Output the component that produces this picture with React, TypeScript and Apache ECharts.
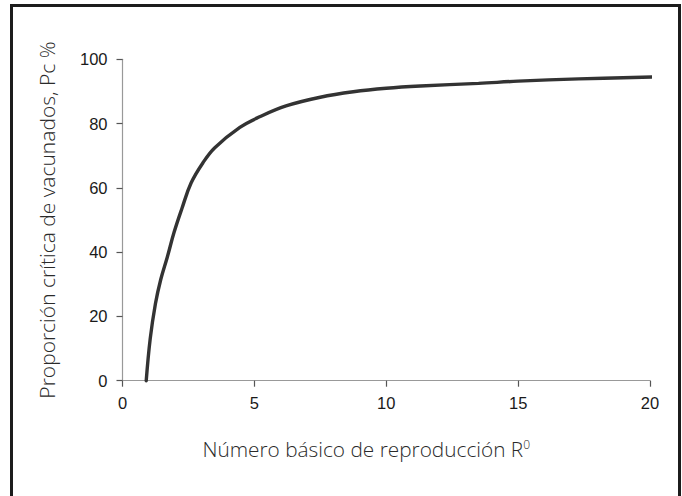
import React, { useEffect, useRef } from "react";
import * as echarts from "echarts";

// Basic reproduction number R0 (x) and critical vaccination proportion Pc % (y)
const r0Values = [0.9, 1.05, 1.25, 1.45, 1.7, 1.95, 2.25, 2.6, 3.05, 3.5, 4.45, 5.2, 6.2, 7.5, 8.75, 10, 11.3, 13.5, 15, 17.3, 20.2];
const pcValues = [0, 13, 24, 31.5, 38.5, 46, 53.5, 61.5, 67.8, 72.5, 78.8, 82.1, 85.5, 88.2, 89.9, 91, 91.7, 92.5, 93.2, 93.9, 94.5];

const xTitle = "Número básico de reproducción R";
const xTitleSup = "0";
const yTitle = "Proporción crítica de vacunados, Pc %";

export default function App() {
  const ref = useRef<HTMLDivElement>(null);
  useEffect(() => {
    if (!ref.current) return;
    const chart = echarts.init(ref.current, null, { renderer: "svg" });
    const data = r0Values.map((r, i) => [r, pcValues[i]]);
    const titleFont = "'Open Sans', 'Noto Sans', sans-serif";
    const tickFont = "'Liberation Sans', Arial, sans-serif";
    chart.setOption({
      animation: false,
      backgroundColor: "#ffffff",
      grid: { left: 122.5, right: 32, top: 59.3, bottom: 115.3, containLabel: false },
      graphic: [
        {
          type: "rect",
          shape: { x: 11.5, y: 5.5, width: 668, height: 540 },
          style: { fill: "none", stroke: "#1c1c1c", lineWidth: 3 },
          silent: true,
        },
      ],
      xAxis: {
        type: "value",
        min: 0,
        max: 20,
        interval: 5,
        name: `${xTitle}{sup|${xTitleSup}}`,
        nameLocation: "middle",
        nameGap: 58,
        nameTextStyle: {
          fontFamily: titleFont,
          fontWeight: 300,
          fontSize: 20.8,
          color: "#2a2a2a",
          padding: [0, 40, 0, 0],
          rich: {
            sup: { fontFamily: titleFont, fontWeight: 300, fontSize: 12, color: "#2a2a2a", verticalAlign: "top", lineHeight: 15 },
          },
        },
        axisLine: { lineStyle: { color: "#999", width: 1.2 } },
        axisTick: { length: 6, lineStyle: { color: "#555", width: 1.2 } },
        axisLabel: { margin: 14, fontFamily: tickFont, fontSize: 16.5, color: "#1a1a1a" },
        splitLine: { show: false },
      },
      yAxis: {
        type: "value",
        min: 0,
        max: 100,
        interval: 20,
        name: yTitle,
        nameLocation: "middle",
        nameGap: 65,
        nameTextStyle: {
          fontFamily: titleFont,
          fontWeight: 300,
          fontSize: 21,
          color: "#2a2a2a",
        },
        axisLine: { show: true, lineStyle: { color: "#999", width: 1.2 } },
        axisTick: { show: true, length: 6, lineStyle: { color: "#555", width: 1.2 } },
        axisLabel: { margin: 15, fontFamily: tickFont, fontSize: 16.5, color: "#1a1a1a" },
        splitLine: { show: false },
      },
      series: [
        {
          type: "line",
          data,
          smooth: 0.4,
          showSymbol: false,
          symbol: "none",
          clip: false,
          lineStyle: { color: "#333", width: 3.4, cap: "round" },
        },
      ],
    });
    return () => chart.dispose();
  }, []);
  return <div ref={ref} style={{ position: "fixed", left: 0, top: 0, width: 682, height: 496 }} />;
}
